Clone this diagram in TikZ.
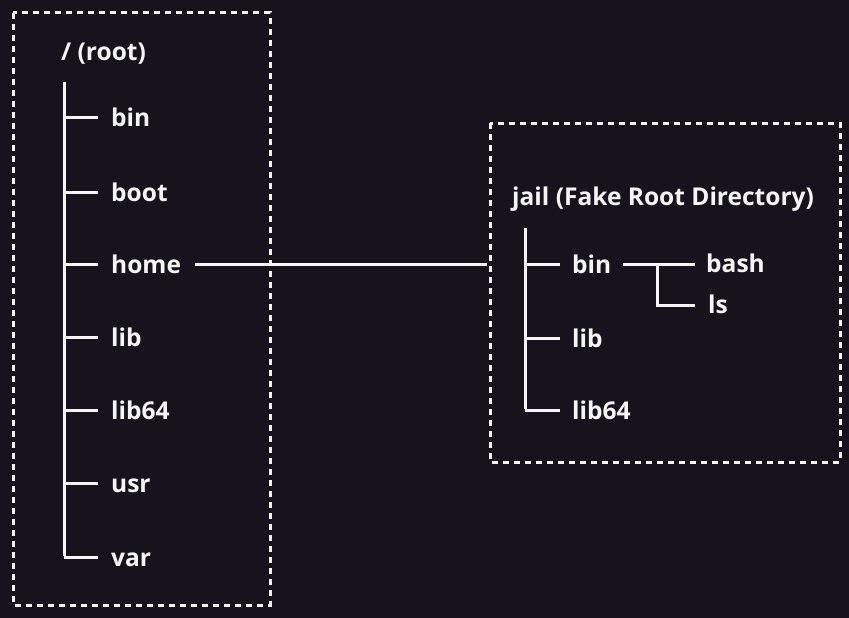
\documentclass[tikz,border=0pt]{standalone}
\usepackage{fontspec}
\setmainfont{Open Sans}
\definecolor{bg}{RGB}{22,19,29}
\definecolor{fg}{RGB}{245,245,245}
\begin{document}
\begin{tikzpicture}[x=1pt,y=-1pt,
  lbl/.style={anchor=base west,inner sep=0pt,text=fg,font=\fontsize{24.5}{28}\selectfont\bfseries},
  treeline/.style={draw=fg,line width=3pt},
  box/.style={draw=fg,line width=3pt,dash pattern=on 6pt off 5pt}]
\fill[bg] (0,0) rectangle (849,618);
\useasboundingbox (0,0) rectangle (849,618);
% boxes
\draw[box] (13,13) rectangle (270,605);
\draw[box] (490,123) rectangle (840,462);
% left tree
\node[lbl] (root) at (61,61) {/ (root)};
\coordinate (ltop) at (64,82);
\foreach \n/\t/\y in {bin/bin/117,boot/boot/192,home/home/264,lib/lib/337,lib64/lib64/410,usr/usr/483,var/var/557}{
  \node[lbl] (l\n) at (111,\y+9) {\t};
  \coordinate (lb\n) at (64,\y);
  \draw[treeline] (lb\n) -- (98,\y);
}
\draw[treeline] (ltop) -- ([yshift=1.5pt]lbvar);
% right tree
\node[lbl] (jail) at (512,205) {jail (Fake Root Directory)};
\coordinate (rtop) at (525,228);
\foreach \n/\t/\y in {bin/bin/264,lib/lib/338,lib64/lib64/410}{
  \node[lbl] (r\n) at (572,\y+9) {\t};
  \coordinate (rb\n) at (525,\y);
  \draw[treeline] (rb\n) -- (560,\y);
}
\draw[treeline] (rtop) -- ([yshift=1.5pt]rblib64);
\node[lbl] (bash) at (706,272) {bash};
\node[lbl] (ls) at (708,313) {ls};
\coordinate (binend) at (623,264);
\coordinate (split) at (657,264);
\coordinate (lsjoin) at (657,305);
\draw[treeline] (binend) -- (695,264);
\draw[treeline] ([yshift=-1.5pt]split) -- (lsjoin) -- (695,305);
% link
\coordinate (homeend) at (195,264);
\coordinate (jailin) at (487,264);
\draw[treeline] (homeend) -- (jailin);
\end{tikzpicture}
\end{document}
